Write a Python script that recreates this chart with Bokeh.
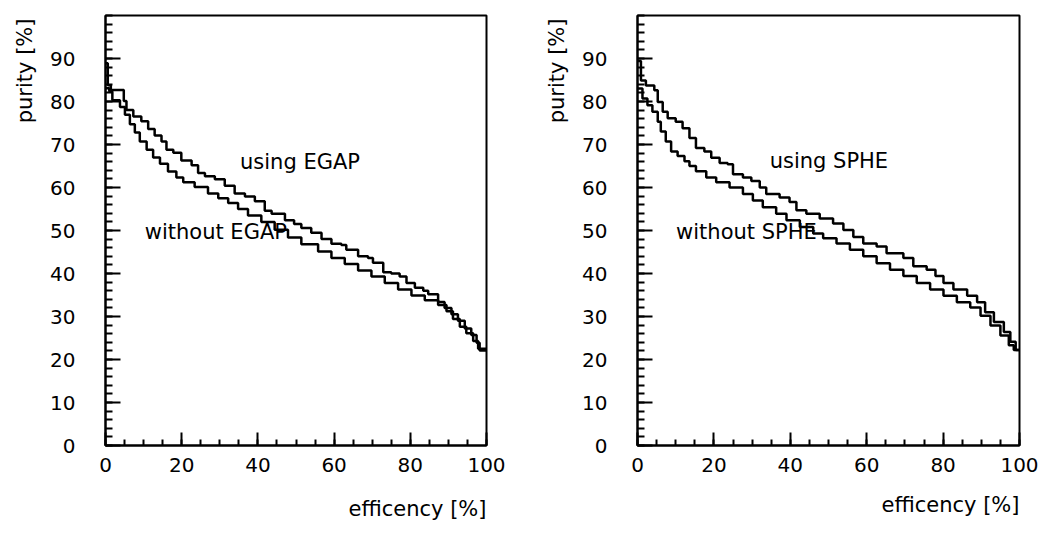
from bokeh.plotting import figure
from bokeh.layouts import row
from bokeh.models import Range1d, FixedTicker, Label, Title
from bokeh.embed import file_html
from bokeh.resources import INLINE

# ---- data ----
# left panel: EGAP
eff_l_using = [0, 0.6, 1.4, 4.8, 5.5, 7.3, 9.4, 11.2, 12.9, 14.7, 16, 17.8, 19.9, 22.6, 24.3,
               26.1, 28.7, 31.3, 33.9, 36.6, 39.2, 41.8, 43.6, 47.1, 49.5, 51.4, 54, 56.7,
               59.3, 61.9, 63.2, 66.3, 68.9, 70.2, 72.9, 75, 77.2, 79, 81.2, 83.4, 84.7, 87.3,
               89, 90.8, 92.5, 94.3, 96, 97.4, 98.2, 100]
pur_l_using = [88.9, 83.8, 82.7, 80.1, 78, 76.5, 75.4, 73.6, 72.1, 70.7, 68.8, 68.1, 66.3,
               65.2, 63.4, 62.6, 61.9, 60.4, 58.6, 57.9, 56.8, 54.6, 53.9, 52.4, 51.5, 50.6,
               49.5, 48, 46.9, 46.6, 45.5, 44, 43.6, 42.5, 40.3, 40, 39.3, 37.8, 36.7, 36,
               35.2, 33.4, 32, 30.5, 29, 27.2, 25.7, 23.9, 22.1, 22.1]
eff_l_without = [0, 1.0, 1.8, 3.8, 5.1, 6.4, 7.7, 9, 10.8, 12.5, 14.3, 16.4, 18.6, 20.4, 23.4,
                 26.9, 29.6, 32.2, 34.8, 37.4, 40.9, 44.4, 47.9, 51.4, 55.8, 59.3, 62.8, 66.3,
                 69.8, 73.3, 76.8, 80.3, 83.8, 87.3, 89.5, 91.2, 93, 94.7, 96.5, 97.8, 100]
pur_l_without = [83.1, 82.3, 80.3, 78.7, 76.9, 74.7, 72.8, 70.7, 68.8, 67, 65.5, 63.7, 62.3,
                 61.2, 60.1, 58.6, 57.5, 56.4, 55, 53.5, 52, 50.2, 48.4, 46.8, 45.1, 43.6,
                 42.2, 40.7, 39.3, 37.8, 36.3, 34.9, 33.8, 32.7, 31.2, 29.4, 27.6, 26.1, 24.3,
                 22.5, 22.1]

# right panel: SPHE
eff_r_using = [0, 0.9, 2.2, 4.4, 5.3, 6.6, 7.9, 10, 11.8, 13.6, 15.3, 17.5, 19.3, 21.5, 23.6,
               25, 27.6, 29.8, 32, 33.7, 37.2, 39.8, 41.6, 44.2, 47.7, 51.2, 53.9, 56.5, 59.1,
               62.6, 65.2, 69.6, 72.2, 75.7, 78, 80.1, 82.7, 86.3, 88.9, 91, 93.3, 95.9, 97.6,
               99, 100]
pur_r_using = [89.4, 84.9, 83.7, 82.6, 79.9, 77.6, 76.1, 75.3, 73.8, 71.5, 69.2, 68.4, 66.9,
               65.7, 65.4, 63.1, 62.3, 61.5, 60, 58.5, 57.7, 56.6, 54.7, 53.9, 52.8, 51.6,
               50.1, 48.5, 47, 46.3, 44.7, 43.6, 41.7, 40.9, 39.4, 37.8, 36.3, 34.8, 33.3, 31,
               28.7, 26.4, 24.1, 22.2, 22.2]
eff_r_without = [0, 1.3, 2.6, 3.9, 5.3, 6.1, 7.4, 8.8, 10.5, 12.3, 13.6, 15.3, 18, 20.6, 24.1,
                 27.6, 30.2, 32.8, 36.3, 39, 42.5, 46, 48.6, 52.1, 55.6, 59.1, 62.6, 66.1,
                 69.6, 73.1, 76.6, 80.1, 83.6, 87.1, 89.8, 92.4, 95, 97.2, 98.5, 100]
pur_r_without = [83, 80.7, 79.1, 77.6, 75.3, 73, 70.7, 68.4, 67.3, 66.1, 65, 63.8, 62.3, 61.2,
                 60, 58.5, 57, 55.4, 53.9, 52.4, 50.8, 49.3, 48.2, 47, 45.5, 44, 42.4, 40.9,
                 39.4, 37.8, 36.3, 34.8, 33.3, 32.1, 30.2, 27.9, 25.6, 23.3, 22.2, 22.2]

x_tick_values = [0, 20, 40, 60, 80, 100]
y_tick_values = [0, 10, 20, 30, 40, 50, 60, 70, 80, 90]
x_label = "efficency [%]"
y_label = "purity [%]"

FONT = "DejaVu Sans"


def panel(width, border_left, border_right, border_top, border_bottom,
          ex_u, pu_u, ex_w, pu_w, name, using_pos, without_pos, xlab_standoff):
    p = figure(width=width, height=544, output_backend="svg", toolbar_location=None,
               x_range=Range1d(0, 100), y_range=Range1d(0, 100),
               min_border_left=border_left, min_border_right=border_right,
               min_border_top=border_top, min_border_bottom=border_bottom)
    p.grid.visible = False
    p.outline_line_color = "black"
    p.outline_line_width = 2
    p.background_fill_color = "white"
    p.border_fill_color = "white"

    p.xaxis.ticker = FixedTicker(ticks=x_tick_values,
                                 minor_ticks=[v for v in range(0, 101, 5)])
    p.yaxis.ticker = FixedTicker(ticks=y_tick_values,
                                 minor_ticks=[v for v in range(0, 101, 2)])
    for ax in (p.xaxis, p.yaxis):
        ax.axis_line_width = 2
        ax.axis_line_color = "black"
        ax.major_tick_out = 0
        ax.minor_tick_out = 0
        ax.major_tick_line_width = 2
        ax.minor_tick_line_width = 2
        ax.major_label_text_font = FONT
        ax.major_label_text_font_size = "20px"
        ax.major_label_text_color = "black"
    p.xaxis.major_tick_in = 13
    p.xaxis.minor_tick_in = 6
    p.yaxis.major_tick_in = 15
    p.yaxis.minor_tick_in = 7
    p.xaxis.major_label_standoff = 12
    p.yaxis.major_label_standoff = 30

    p.step(ex_u, pu_u, mode="after", line_width=2.5, line_color="black")
    p.step(ex_w, pu_w, mode="after", line_width=2.5, line_color="black")

    p.add_layout(Label(x=using_pos[0], y=using_pos[1], text="using " + name,
                       text_font=FONT, text_font_size="21px", text_baseline="middle",
                       text_color="black"))
    p.add_layout(Label(x=without_pos[0], y=without_pos[1], text="without " + name,
                       text_font=FONT, text_font_size="21px", text_baseline="middle",
                       text_color="black"))
    p.add_layout(Title(text=x_label, align="right", text_font=FONT,
                       text_font_size="21px", text_font_style="normal",
                       text_color="black", standoff=xlab_standoff), "below")
    p.add_layout(Title(text=y_label, align="right", text_font=FONT,
                       text_font_size="21px", text_font_style="normal",
                       text_color="black", standoff=21, offset=3), "left")
    return p


left = panel(520, 104, 34, 15, 94, eff_l_using, pur_l_using, eff_l_without, pur_l_without,
             "EGAP", (35.3, 65.9), (10.3, 49.6), 40)
right = panel(521, 117, 22, 13, 99, eff_r_using, pur_r_using, eff_r_without, pur_r_without,
              "SPHE", (34.6, 66.1), (10.1, 49.7), 32)

layout = row(left, right)
open("out.html", "w").write(file_html(layout, INLINE))
